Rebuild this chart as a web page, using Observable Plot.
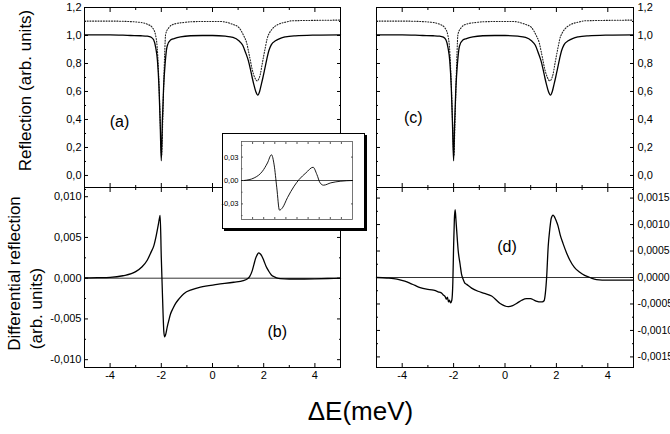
<!DOCTYPE html>
<html><head><meta charset="utf-8">
<script src="https://cdn.jsdelivr.net/npm/d3@7"></script>
<script src="https://cdn.jsdelivr.net/npm/@observablehq/plot@0.6"></script>
<style>
body{margin:0;background:#fff;}
#chart{position:relative;width:670px;height:434px;overflow:hidden;background:#fff;}
#chart svg{position:absolute;left:0;top:0;}
</style></head><body><div id="chart"></div>
<script>
// ---- data ----
const reflSolidX = [-5, -4, -3.2, -2.8, -2.55, -2.4, -2.3, -2.22, -2.15, -2.09, -2.045, -2.0, -1.96, -1.91, -1.85, -1.77, -1.64, -1.5, -1.25, -0.86, -0.4, 0, 0.5, 0.8, 1.03, 1.18, 1.29, 1.4, 1.48, 1.55, 1.61, 1.69, 1.77, 1.84, 1.91, 1.97, 2.04, 2.12, 2.2, 2.3, 2.46, 2.65, 2.85, 3.24, 4, 5];
const reflSolidY = [1.005, 1.005, 1.0, 0.998, 0.995, 0.988, 0.97, 0.915, 0.82, 0.63, 0.38, 0.105, 0.38, 0.63, 0.80, 0.925, 0.968, 0.978, 0.99, 0.998, 1.0, 1.0, 0.995, 0.986, 0.962, 0.93, 0.879, 0.82, 0.76, 0.70, 0.653, 0.60, 0.574, 0.60, 0.653, 0.70, 0.76, 0.83, 0.891, 0.935, 0.962, 0.98, 0.99, 0.998, 1.003, 1.005];
const reflDotX = [-5, -4, -3.3, -2.95, -2.8, -2.55, -2.35, -2.22, -2.14, -2.08, -2.03, -1.99, -1.95, -1.91, -1.87, -1.83, -1.7, -1.51, -1.12, -0.86, -0.3, 0.3, 0.55, 0.77, 1.03, 1.22, 1.33, 1.415, 1.48, 1.547, 1.65, 1.74, 1.81, 1.87, 1.935, 2.0, 2.07, 2.13, 2.23, 2.33, 2.585, 2.85, 3.11, 4, 5];
const reflDotY = [1.103, 1.103, 1.1, 1.096, 1.093, 1.081, 1.057, 1.0, 0.86, 0.6, 0.32, 0.14, 0.35, 0.62, 0.86, 1.01, 1.057, 1.081, 1.093, 1.098, 1.1, 1.1, 1.094, 1.081, 1.057, 0.998, 0.95, 0.879, 0.82, 0.76, 0.70, 0.676, 0.69, 0.724, 0.79, 0.855, 0.92, 0.974, 1.02, 1.046, 1.081, 1.095, 1.105, 1.108, 1.11];

const diffBX = [-5, -4.5, -4, -3.5, -3, -2.75, -2.55, -2.4, -2.29, -2.2, -2.12, -2.07, -2.045, -2.0, -1.95, -1.9, -1.87, -1.82, -1.77, -1.7, -1.64, -1.54, -1.44, -1.3, -1.12, -0.8, -0.47, 0.18, 0.83, 1.2, 1.35, 1.45, 1.55, 1.62, 1.68, 1.75, 1.8, 1.86, 1.93, 2.0, 2.1, 2.19, 2.3, 2.39, 2.5, 2.65, 3, 3.5, 4, 4.5, 5];
const diffBY = [0.00003, 0.00006, 0.0001, 0.0003, 0.0008, 0.0014, 0.0022, 0.0032, 0.004, 0.0052, 0.0065, 0.0074, 0.0077, 0.0025, -0.0025, -0.0066, -0.0072, -0.0068, -0.006, -0.0051, -0.0044, -0.0037, -0.0031, -0.0025, -0.0019, -0.0014, -0.0011, -0.00077, -0.0005, -0.0003, -0.0001, 0.0002, 0.0009, 0.0017, 0.0024, 0.0029, 0.0031, 0.003, 0.0027, 0.0022, 0.0014, 0.0009, 0.0004, 0.0002, 0.00005, -0.00005, -0.0001, -0.0001, -0.00008, -0.00004, 0];

const diffDX = [-5, -4.6, -4.2, -3.9, -3.69, -3.5, -3.3, -3.05, -2.78, -2.6, -2.45, -2.4, -2.33, -2.28, -2.24, -2.2, -2.16, -2.12, -2.07, -2.03, -2.0, -1.97, -1.94, -1.91, -1.88, -1.82, -1.75, -1.69, -1.64, -1.57, -1.49, -1.3, -1.05, -0.8, -0.52, -0.19, 0.13, 0.3, 0.45, 0.65, 0.84, 1.0, 1.1, 1.25, 1.36, 1.45, 1.52, 1.57, 1.62, 1.68, 1.74, 1.8, 1.87, 1.93, 2.0, 2.06, 2.15, 2.26, 2.4, 2.52, 2.7, 2.91, 3.1, 3.3, 3.56, 4, 4.5, 5];
const diffDY = [0, -0.00001, -0.00003, -0.00007, -0.00011, -0.00015, -0.00019, -0.00022, -0.00024, -0.00027, -0.0003, -0.00033, -0.00036, -0.00041, -0.00037, -0.00046, -0.00043, -0.00048, -0.00043, -0.0001, 0.00058, 0.0011, 0.00128, 0.0011, 0.00089, 0.0005, 0.00026, 0.00006, -0.00002, -0.0001, -0.00013, -0.0002, -0.00026, -0.0003, -0.00035, -0.00049, -0.00055, -0.00053, -0.00049, -0.00043, -0.0004, -0.0004, -0.00042, -0.00045, -0.00046, -0.00046, -0.00044, -0.0003, 0.0, 0.00058, 0.0009, 0.00112, 0.00118, 0.00114, 0.00106, 0.00098, 0.0008, 0.00064, 0.00046, 0.00033, 0.00019, 0.0001, 0.00004, 0.0, -0.00004, -0.00005, -0.00005, -0.00005];

const insetX = [-4.77, -3.86, -3.11, -2.66, -2.3, -2.06, -1.82, -1.58, -1.31, -0.86, -0.26, 0.19, 0.8, 1.45, 1.79, 2.08, 2.39, 3.05, 3.95, 5];
const insetY = [0, 0.0033, 0.0119, 0.0225, 0.033, 0.020, -0.0094, -0.038, -0.035, -0.022, -0.0073, 0.0013, 0.0097, 0.017, 0.0077, -0.003, -0.006, -0.003, -0.0009, 0];

// tick values
const xMajor = [-4, -2, 0, 2, 4];
const xMinor = [-3, -1, 1, 3];
const reflTicks = [0, 0.2, 0.4, 0.6, 0.8, 1.0, 1.2];
const reflMinor = [-0.1, 0.1, 0.3, 0.5, 0.7, 0.9, 1.1];
const diffBTicks = [-0.01, -0.005, 0, 0.005, 0.01];
const diffBMinor = [-0.0075, -0.0025, 0.0025, 0.0075];
const diffDTicks = [-0.0015, -0.001, -0.0005, 0, 0.0005, 0.001, 0.0015];
const diffDMinor = [-0.00125, -0.00075, -0.00025, 0.00025, 0.00075, 0.00125];
const insetTicks = [-0.03, 0, 0.03];
const insetMinor = [-0.045, -0.015, 0.015, 0.045];
const insetXTicks = [-4, -3, -2, -1, 0, 1, 2, 3, 4];

// ---- rendering ----
const W = 670, H = 434;
const FONT = "'Liberation Sans', Arial, Helvetica, sans-serif";
const zip = (xs, ys) => xs.map((x, i) => ({x, y: ys[i]}));
const comma = (n) => d => (Math.abs(d) < 1e-12 ? 0 : d).toFixed(n).replace(".", ",");
const hyph = d => String(d).replace("\u2212", "-");

function innerTicks(xM, xm, yM, ym, big = 4, small = 2) {
  const o = {fill: "none", label: null, strokeWidth: 1};
  return [
    Plot.axisX(xM, {...o, anchor: "bottom", tickSize: -big}),
    Plot.axisX(xM, {...o, anchor: "top", tickSize: -big}),
    Plot.axisX(xm, {...o, anchor: "bottom", tickSize: -small}),
    Plot.axisX(xm, {...o, anchor: "top", tickSize: -small}),
    Plot.axisY(yM, {...o, anchor: "left", tickSize: -big}),
    Plot.axisY(yM, {...o, anchor: "right", tickSize: -big}),
    Plot.axisY(ym, {...o, anchor: "left", tickSize: -small}),
    Plot.axisY(ym, {...o, anchor: "right", tickSize: -small})
  ];
}

function panel(m, yDomain, marks) {
  return Plot.plot({
    width: W, height: H,
    marginLeft: m[0], marginRight: W - m[1], marginTop: m[2], marginBottom: H - m[3],
    x: {domain: [-5, 5], axis: null},
    y: {domain: yDomain, axis: null},
    style: {background: "transparent", fontFamily: FONT, fontSize: "11px", color: "black"},
    marks
  });
}

const solid = zip(reflSolidX, reflSolidY);
const dotted = zip(reflDotX, reflDotY);
const lineOpts = {x: "x", y: "y", stroke: "black", strokeWidth: 1.3, curve: "monotone-x"};
const dotOpts = {x: "x", y: "y", stroke: "#222", strokeWidth: 1.1, strokeDasharray: "1,1.7", curve: "monotone-x"};
const vTitle = {frameAnchor: "left", rotate: -90, textAnchor: "middle", lineAnchor: "middle", text: d => d, fontSize: 17};

const reflDomain = [-0.086, 1.2];
const bDomain = [-0.01096, 0.01113];
const dDomain = [-0.0017, 0.0017];

const chart = document.getElementById("chart");

// (a)
chart.append(panel([84, 340, 7, 187], reflDomain, [
  Plot.frame({stroke: "black", strokeWidth: 1}),
  ...innerTicks(xMajor, xMinor, reflTicks, reflMinor),
  Plot.axisY(reflTicks, {anchor: "left", tickSize: 0, tickPadding: 3, tickFormat: comma(1), label: null, fontSize: 11}),
  Plot.line(dotted, dotOpts),
  Plot.line(solid, lineOpts),
  Plot.text(["(a)"], {x: -3.63, y: 0.38, text: d => d, fontSize: 16}),
  Plot.text(["Reflection (arb. units)"], {...vTitle, dx: -59, dy: -7})
]));

// (b)
chart.append(panel([84, 340, 187, 367], bDomain, [
  Plot.frame({stroke: "black", strokeWidth: 1}),
  ...innerTicks(xMajor, xMinor, diffBTicks, diffBMinor),
  Plot.axisY(diffBTicks, {anchor: "left", tickSize: 0, tickPadding: 3, tickFormat: comma(3), label: null, fontSize: 11}),
  Plot.axisX(xMajor, {anchor: "bottom", tickSize: 0, tickPadding: 4, tickFormat: hyph, label: null, fontSize: 11}),
  Plot.ruleY([0], {stroke: "black", strokeWidth: 0.8}),
  Plot.line(zip(diffBX, diffBY), lineOpts),
  Plot.text(["(b)"], {x: 2.53, y: -0.00663, text: d => d, fontSize: 16}),
  Plot.text(["Differential reflection"], {...vTitle, dx: -70, dy: -4}),
  Plot.text(["(arb. units)"], {...vTitle, dx: -48, dy: 31}),
  Plot.text(["\u0394E(meV)"], {frameAnchor: "bottom", lineAnchor: "middle", textAnchor: "middle", dx: 148, dy: 44, text: d => d, fontSize: 26})
]));

// (c)
chart.append(panel([376, 633, 7, 187], reflDomain, [
  Plot.frame({stroke: "black", strokeWidth: 1}),
  ...innerTicks(xMajor, xMinor, reflTicks, reflMinor),
  Plot.axisY(reflTicks, {anchor: "right", tickSize: 0, tickPadding: 4, tickFormat: comma(1), label: null, fontSize: 11}),
  Plot.line(dotted, dotOpts),
  Plot.line(solid, lineOpts),
  Plot.text(["(c)"], {x: -3.57, y: 0.41, text: d => d, fontSize: 16})
]));

// (d)
chart.append(panel([376, 633, 187, 367], dDomain, [
  Plot.frame({stroke: "black", strokeWidth: 1}),
  ...innerTicks(xMajor, xMinor, diffDTicks, diffDMinor),
  Plot.axisY(diffDTicks, {anchor: "right", tickSize: 0, tickPadding: 4, tickFormat: comma(4), label: null, fontSize: 10.5}),
  Plot.axisX(xMajor, {anchor: "bottom", tickSize: 0, tickPadding: 4, tickFormat: hyph, label: null, fontSize: 11}),
  Plot.ruleY([0], {stroke: "black", strokeWidth: 0.8}),
  Plot.line(zip(diffDX, diffDY), lineOpts),
  Plot.text(["(d)"], {x: 0.08, y: 0.00057, text: d => d, fontSize: 16})
]));

// inset
chart.append(Plot.plot({
  width: W, height: H,
  marginLeft: 241, marginRight: W - 352, marginTop: 141, marginBottom: H - 219,
  x: {domain: [-5, 5], axis: null},
  y: {domain: [-0.05, 0.05], axis: null},
  style: {background: "transparent", fontFamily: FONT, fontSize: "7.5px", color: "black"},
  marks: [
    Plot.frame({fill: "black", stroke: "black", insetLeft: -17, insetTop: -6, insetRight: -14, insetBottom: -11}),
    Plot.frame({fill: "white", stroke: "black", strokeWidth: 1, insetLeft: -19, insetTop: -8, insetRight: -12, insetBottom: -9}),
    Plot.frame({stroke: "#555", strokeWidth: 0.8}),
    Plot.axisX(insetXTicks, {anchor: "bottom", tickSize: -2, fill: "none", label: null, stroke: "#555"}),
    Plot.axisX(insetXTicks, {anchor: "top", tickSize: -2, fill: "none", label: null, stroke: "#555"}),
    Plot.axisY(insetTicks, {anchor: "left", tickSize: -2, fill: "none", label: null, stroke: "#555"}),
    Plot.axisY(insetMinor, {anchor: "left", tickSize: -1.5, fill: "none", label: null, stroke: "#555"}),
    Plot.axisY(insetTicks, {anchor: "right", tickSize: -2, fill: "none", label: null, stroke: "#555"}),
    Plot.axisY(insetTicks, {anchor: "left", tickSize: 0, tickPadding: 3, tickFormat: comma(2), label: null, fontSize: 7.5}),
    Plot.ruleY([0], {stroke: "black", strokeWidth: 0.7}),
    Plot.line(zip(insetX, insetY), {x: "x", y: "y", stroke: "black", strokeWidth: 0.9, curve: "monotone-x"})
  ]
}));
</script></body></html>
